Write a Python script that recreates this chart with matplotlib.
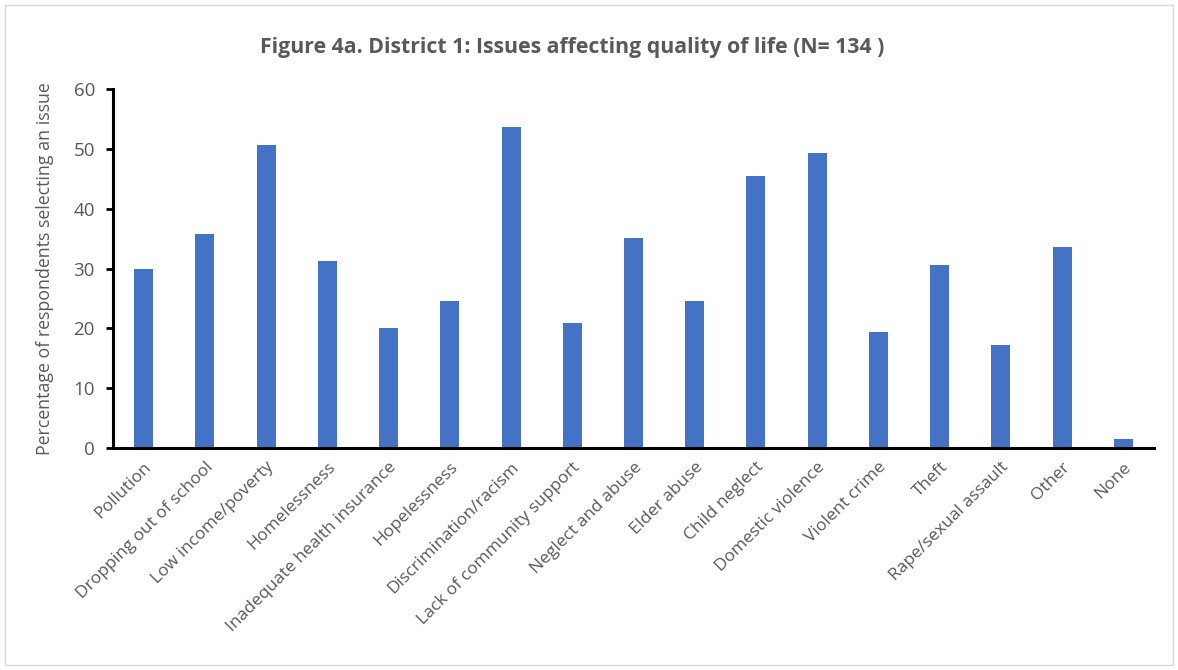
import matplotlib.pyplot as plt
import numpy as np
from matplotlib.patches import Rectangle

categories = ['Pollution', 'Dropping out of school', 'Low income/poverty', 'Homelessness',
              'Inadequate health insurance', 'Hopelessness', 'Discrimination/racism',
              'Lack of community support', 'Neglect and abuse', 'Elder abuse', 'Child neglect',
              'Domestic violence', 'Violent crime', 'Theft', 'Rape/sexual assault', 'Other', 'None']
percent = [29.9, 35.8, 50.7, 31.3, 20.1, 24.6, 53.7, 20.9, 35.1, 24.6, 45.5,
           49.3, 19.4, 30.6, 17.2, 33.6, 1.5]
y_ticks = [0, 10, 20, 30, 40, 50, 60]

plt.rcParams['font.family'] = ['Open Sans', 'DejaVu Sans']
grey = '#595959'

fig = plt.figure(figsize=(11.78, 6.70), dpi=100)
ax = fig.add_axes([113 / 1178, 1 - 448 / 670, (1154 - 113) / 1178, (448 - 89) / 670])

x = np.arange(len(categories))
ax.bar(x, percent, width=0.31, color='#4472C4')

ax.set_xlim(-0.5, len(categories) - 0.5)
ax.set_ylim(0, 60)
ax.set_yticks(y_ticks)
ax.set_xticks(x)
ax.set_xticklabels(categories, rotation=45, ha='right', rotation_mode='anchor')

for side in ['top', 'right']:
    ax.spines[side].set_visible(False)
for side in ['left', 'bottom']:
    ax.spines[side].set_linewidth(2.2)
    ax.spines[side].set_color('black')

ax.tick_params(axis='y', direction='out', length=5, width=2, colors='black',
               labelcolor=grey, labelsize=13.5, pad=8)
ax.tick_params(axis='x', length=0, labelcolor=grey, labelsize=12.5, pad=8)

ax.set_ylabel('Percentage of respondents selecting an issue', color=grey, fontsize=12.8, labelpad=14)
fig.text(0.486, 1 - 47 / 670, 'Figure 4a. District 1: Issues affecting quality of life (N= 134 )',
         ha='center', va='center', fontsize=15.3, fontweight='bold', color=grey)

# light frame around the whole chart
fig.patches.append(Rectangle((5 / 1178, 5 / 670), 1 - 10 / 1178, 1 - 10 / 670,
                             transform=fig.transFigure, fill=False, edgecolor='#d9d9d9', linewidth=1))

fig.savefig('out.png', dpi=100)
